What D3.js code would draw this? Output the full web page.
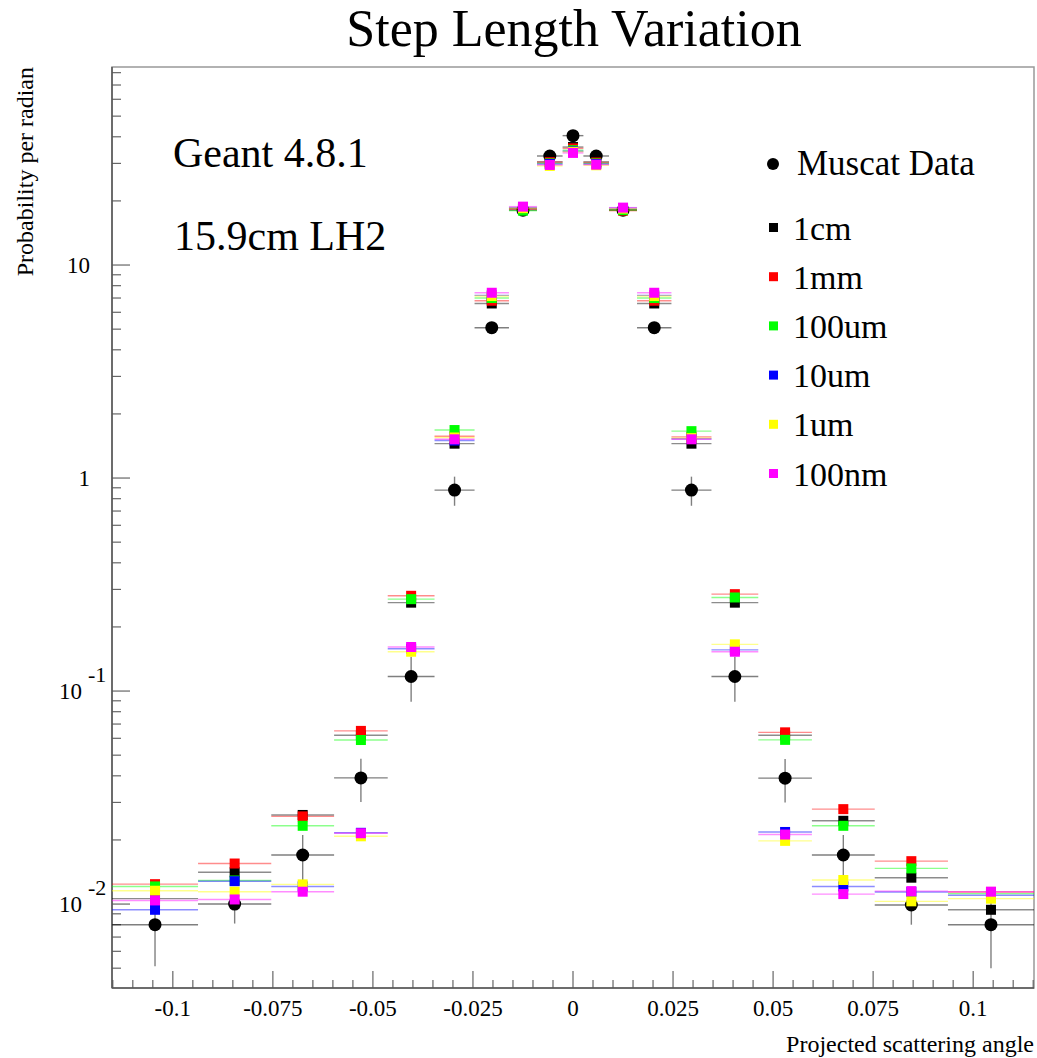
<!DOCTYPE html>
<html>
<head>
<meta charset="utf-8">
<script src="https://cdn.jsdelivr.net/npm/d3@7"></script>
<style>
  body { margin: 0; background: #fff; }
  svg { display: block; font-family: "Liberation Serif", "DejaVu Serif", serif; }
</style>
</head>
<body>
<svg id="chart" width="1037" height="1058"></svg>
<script>
// bin edges of the projected scattering angle (rad)
var binEdges = [-0.1152, -0.0937, -0.0754, -0.0597, -0.0463, -0.0346, -0.0246, -0.0160, -0.0090, -0.0026,
  0.0026, 0.0090, 0.0160, 0.0246, 0.0346, 0.0463, 0.0597, 0.0754, 0.0937, 0.1152];

// Muscat measurement and its error
var muscatValues = [0.0080, 0.0100, 0.0170, 0.0391, 0.117, 0.878, 5.08, 18.1, 32.5, 40.5,
  32.5, 18.1, 5.08, 0.878, 0.117, 0.0390, 0.0170, 0.0099, 0.0080];
var muscatErrors = [0.0029, 0.0019, 0.0041, 0.009, 0.028, 0.137, 0.25, 0.4, 0.6, 0.8,
  0.6, 0.4, 0.25, 0.137, 0.028, 0.009, 0.0041, 0.0019, 0.003];

// Geant 4.8.1 with different step lengths
var stepNames = ["1cm", "1mm", "100um", "10um", "1um", "100nm"];
var stepColors = ["#000000", "#ff0000", "#00ff00", "#0000ff", "#ffff00", "#ff00ff"];
var step1cm = [0.0106, 0.0141, 0.0262, 0.062, 0.26, 1.45, 6.6, 18.4, 30.5, 35.8,
  30.5, 18.2, 6.6, 1.45, 0.26, 0.062, 0.0246, 0.0133, 0.0094];
var step1mm = [0.0124, 0.0155, 0.0258, 0.065, 0.28, 1.57, 6.8, 18.3, 30.4, 35.3,
  30.3, 18.0, 6.8, 1.56, 0.285, 0.064, 0.0279, 0.0159, 0.0114];
var step100um = [0.0121, 0.0129, 0.0233, 0.0589, 0.27, 1.68, 7.0, 18.0, 30.0, 34.6,
  30.0, 18.1, 7.0, 1.66, 0.275, 0.059, 0.0233, 0.0147, 0.0112];
var step10um = [0.0094, 0.0128, 0.0121, 0.0216, 0.158, 1.50, 7.2, 18.6, 29.8, 34.2,
  29.8, 18.5, 7.2, 1.53, 0.156, 0.0218, 0.0121, 0.0114, 0.0110];
var step1um = [0.01155, 0.01143, 0.01237, 0.0208, 0.153, 1.55, 7.15, 18.5, 29.2, 34.0,
  29.4, 18.4, 7.15, 1.54, 0.1656, 0.0198, 0.01297, 0.0103, 0.0106];
var step100nm = [0.0104, 0.01051, 0.01143, 0.0215, 0.161, 1.52, 7.41, 18.8, 29.5, 33.6,
  29.6, 18.6, 7.41, 1.52, 0.153, 0.0212, 0.01114, 0.0115, 0.01143];
var stepSeries = [step1cm, step1mm, step100um, step10um, step1um, step100nm];

// axis ticks and labels
var xTickValues = [-0.1, -0.075, -0.05, -0.025, 0, 0.025, 0.05, 0.075, 0.1];
var xTickLabels = ["-0.1", "-0.075", "-0.05", "-0.025", "0", "0.025", "0.05", "0.075", "0.1"];
var yTickValues = [0.01, 0.1, 1, 10];
var yTickBase = ["10", "10", "1", "10"];
var yTickExp = ["-2", "-1", "", ""];

var frame = { left: 112, right: 1034, top: 67, bottom: 988 };

var svg = d3.select("#chart");

var x = d3.scaleLinear().domain([-0.1152, 0.1152]).range([frame.left, frame.right]);
var y = d3.scaleLog().domain([0.004036, 85.05]).range([frame.bottom, frame.top]);

svg.append("clipPath").attr("id", "plot-clip")
  .append("rect")
  .attr("x", frame.left).attr("y", frame.top)
  .attr("width", frame.right - frame.left).attr("height", frame.bottom - frame.top);

// frame: top and right lighter, axes darker
svg.append("rect")
  .attr("x", frame.left).attr("y", frame.top)
  .attr("width", frame.right - frame.left).attr("height", frame.bottom - frame.top)
  .attr("fill", "none").attr("stroke", "#999").attr("stroke-width", 1.5);

// y ticks on the log axis
var yTicks = [];
for (var e = -3; e <= 2; e++) {
  for (var k = 1; k <= 9; k++) {
    var v = k * Math.pow(10, e);
    if (v >= y.domain()[0] && v <= y.domain()[1]) yTicks.push({ v: v, major: k === 1 });
  }
}
svg.append("g").selectAll("line").data(yTicks).join("line")
  .attr("x1", frame.left).attr("x2", function (d) { return frame.left + (d.major ? 18 : 9); })
  .attr("y1", function (d) { return y(d.v); }).attr("y2", function (d) { return y(d.v); })
  .attr("stroke", "#666").attr("stroke-width", 1.2);

// x ticks every 0.005, major every 0.025
var xTicks = d3.range(-23, 24).map(function (i) { return { v: i * 0.005, major: i % 5 === 0 }; });
svg.append("g").selectAll("line").data(xTicks).join("line")
  .attr("x1", function (d) { return x(d.v); }).attr("x2", function (d) { return x(d.v); })
  .attr("y1", frame.bottom).attr("y2", function (d) { return frame.bottom - (d.major ? 17 : 8); })
  .attr("stroke", "#666").attr("stroke-width", 1.2);

svg.append("line")
  .attr("x1", frame.left).attr("x2", frame.left)
  .attr("y1", frame.top).attr("y2", frame.bottom)
  .attr("stroke", "#555").attr("stroke-width", 1.5);
svg.append("line")
  .attr("x1", frame.left).attr("x2", frame.right)
  .attr("y1", frame.bottom).attr("y2", frame.bottom)
  .attr("stroke", "#555").attr("stroke-width", 1.5);

// x tick labels
svg.append("g").selectAll("text").data(xTickValues).join("text")
  .attr("x", function (d) { return x(d); })
  .attr("y", 1016)
  .attr("text-anchor", "middle")
  .attr("font-size", 23)
  .text(function (d, i) { return xTickLabels[i]; });

// y tick labels, ROOT style 10 with exponent
var yLabels = svg.append("g").selectAll("g").data(yTickValues).join("g");
yLabels.append("text")
  .attr("x", function (d, i) { return yTickExp[i] ? 82 : 90; })
  .attr("y", function (d) { return y(d) + 8; })
  .attr("text-anchor", "end")
  .attr("font-size", 23)
  .text(function (d, i) { return yTickBase[i]; });
yLabels.append("text")
  .attr("x", 88)
  .attr("y", function (d) { return y(d) - 9; })
  .attr("font-size", 22)
  .text(function (d, i) { return yTickExp[i]; });

// titles
svg.append("text")
  .attr("x", 574).attr("y", 46)
  .attr("text-anchor", "middle")
  .attr("font-size", 52)
  .text("Step Length Variation");

svg.append("text")
  .attr("transform", "translate(33," + frame.top + ") rotate(-90)")
  .attr("text-anchor", "end")
  .attr("font-size", 24)
  .text("Probability per radian");

svg.append("text")
  .attr("x", frame.right).attr("y", 1052)
  .attr("text-anchor", "end")
  .attr("font-size", 24)
  .text("Projected scattering angle");

svg.append("text").attr("x", 173).attr("y", 167).attr("font-size", 42).text("Geant 4.8.1");
svg.append("text").attr("x", 174).attr("y", 250).attr("font-size", 42).text("15.9cm LH2");

// data
var plot = svg.append("g").attr("clip-path", "url(#plot-clip)");

function binCenter(i) {
  return (binEdges[i] + binEdges[i + 1]) / 2;
}

// Muscat data first so the simulation squares sit on top
var muscat = plot.append("g").attr("class", "muscat");
muscat.selectAll("line.h").data(muscatValues).join("line").attr("class", "h")
  .attr("x1", function (d, i) { return x(binEdges[i]); })
  .attr("x2", function (d, i) { return x(binEdges[i + 1]); })
  .attr("y1", function (d) { return y(d); }).attr("y2", function (d) { return y(d); })
  .attr("stroke", "#000").attr("stroke-opacity", 0.5).attr("stroke-width", 1.4);
muscat.selectAll("line.v").data(muscatValues).join("line").attr("class", "v")
  .attr("x1", function (d, i) { return x(binCenter(i)); })
  .attr("x2", function (d, i) { return x(binCenter(i)); })
  .attr("y1", function (d, i) { return y(d + muscatErrors[i]); })
  .attr("y2", function (d, i) { return y(d - muscatErrors[i]); })
  .attr("stroke", "#000").attr("stroke-opacity", 0.5).attr("stroke-width", 1.4);
muscat.selectAll("circle").data(muscatValues).join("circle")
  .attr("cx", function (d, i) { return x(binCenter(i)); })
  .attr("cy", function (d) { return y(d); })
  .attr("r", 6.5)
  .attr("fill", "#000");

stepSeries.forEach(function (values, s) {
  var g = plot.append("g").attr("class", "step-" + stepNames[s]);
  g.selectAll("line").data(values).join("line")
    .attr("x1", function (d, i) { return x(binEdges[i]); })
    .attr("x2", function (d, i) { return x(binEdges[i + 1]); })
    .attr("y1", function (d) { return y(d); }).attr("y2", function (d) { return y(d); })
    .attr("stroke", stepColors[s]).attr("stroke-opacity", 0.45).attr("stroke-width", 1.4);
  g.selectAll("rect").data(values).join("rect")
    .attr("x", function (d, i) { return x(binCenter(i)) - 5; })
    .attr("y", function (d) { return y(d) - 5; })
    .attr("width", 10).attr("height", 10)
    .attr("fill", stepColors[s]);
});

// legend
var legend = svg.append("g").attr("class", "legend");
legend.append("circle").attr("cx", 773).attr("cy", 164).attr("r", 6).attr("fill", "#000");
legend.append("text").attr("x", 797).attr("y", 175).attr("font-size", 35).text("Muscat Data");

var items = legend.selectAll("g.item").data(stepNames).join("g").attr("class", "item")
  .attr("transform", function (d, i) { return "translate(0," + (227.5 + i * 49.2) + ")"; });
items.append("rect")
  .attr("x", 769).attr("y", -4.5).attr("width", 9).attr("height", 9)
  .attr("fill", function (d, i) { return stepColors[i]; });
items.append("text")
  .attr("x", 793).attr("y", 12)
  .attr("font-size", 34)
  .text(function (d) { return d; });
</script>
</body>
</html>
